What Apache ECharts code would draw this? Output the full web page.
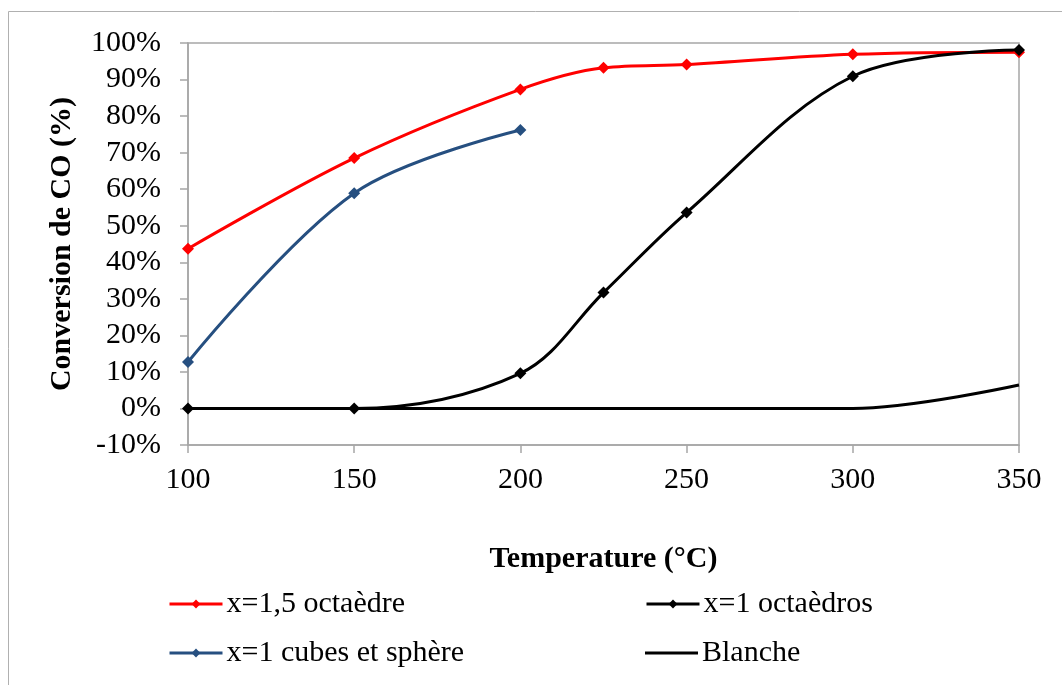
<!DOCTYPE html>
<html><head><meta charset="utf-8">
<script src="https://cdn.jsdelivr.net/npm/echarts@6/dist/echarts.min.js"></script>
<style>html,body{margin:0;padding:0;background:#fff}#c{width:1062px;height:685px}</style>
</head><body><div id="c"></div>
<script>
const temps = [100, 150, 200, 225, 250, 300, 350];
const octa15 = [43.7, 68.5, 87.3, 93.2, 94.1, 96.9, 97.5];
const octa1 = [0, 0, 9.6, 31.7, 53.6, 90.9, 98.1];
const cubesTemps = [100, 150, 200];
const cubes = [12.7, 58.9, 76.2];
const blancheTemps = [100, 150, 200, 250, 300, 350];
const blanche = [0, 0, 0, 0, 0, 6.4];
const names = ['x=1,5 octaèdre', 'x=1 octaèdros', 'x=1 cubes et sphère', 'Blanche'];
const xTicks = { min: 100, max: 350, interval: 50 };
const yTicks = { min: -10, max: 100, interval: 10 };

const pair = (xs, ys) => xs.map((x, i) => [x, ys[i]]);
const FONT = '"Liberation Serif", "Times New Roman", serif';
const AX = '#A6A6A6';
const chart = echarts.init(document.getElementById('c'));
const lg = (name, left, top, icon) => ({
  data: [icon ? { name, icon } : name], left, top, itemWidth: 53, itemHeight: icon ? 3 : 11, itemGap: 0, padding: 0,
  lineStyle: { width: 3 },
  textStyle: { fontFamily: FONT, fontSize: 30, color: '#000', padding: [0, 0, 0, -1] }
});
const mk = (name, data, color, sym) => ({
  name, type: 'line', data, smooth: 0.35, color,
  lineStyle: { width: 3, color },
  symbol: sym ? 'diamond' : 'none', symbolSize: 12,
  itemStyle: { color }, showSymbol: !!sym, z: 3
});
chart.setOption({
  animation: false,
  graphic: [{ type: 'rect', shape: { x: 8.5, y: 11.5, width: 1100, height: 700 },
    style: { fill: 'none', stroke: '#B0B0B0', lineWidth: 1 }, z: -1 }],
  grid: { left: 188, right: 43, top: 43, bottom: 240, show: true, borderColor: AX, borderWidth: 1.5 },
  legend: [lg(names[0], 168, 589), lg(names[1], 645, 589), lg(names[2], 168, 638), lg(names[3], 645, 638, 'rect')],
  xAxis: {
    type: 'value', min: xTicks.min, max: xTicks.max, interval: xTicks.interval,
    name: 'Temperature (°C)', nameLocation: 'middle', nameGap: 99,
    nameTextStyle: { fontFamily: FONT, fontSize: 30, fontWeight: 'bold', color: '#000' },
    axisLine: { onZero: false, lineStyle: { color: AX, width: 1.5 } },
    axisTick: { show: true, length: 8, lineStyle: { color: AX, width: 1.5 } },
    axisLabel: { fontFamily: FONT, fontSize: 30, color: '#000', margin: 20 },
    splitLine: { show: false }
  },
  yAxis: {
    type: 'value', min: yTicks.min, max: yTicks.max, interval: yTicks.interval,
    name: 'Conversion de CO (%)', nameLocation: 'middle', nameGap: 111,
    nameTextStyle: { fontFamily: FONT, fontSize: 30, fontWeight: 'bold', color: '#000' },
    axisLine: { show: true, lineStyle: { color: AX, width: 1.5 } },
    axisTick: { show: true, length: 8, lineStyle: { color: AX, width: 1.5 } },
    axisLabel: { fontFamily: FONT, fontSize: 30, color: '#000', margin: 27, formatter: '{value}%' },
    splitLine: { show: false }
  },
  series: [
    mk(names[0], pair(temps, octa15), '#FF0000', true),
    mk(names[1], pair(temps, octa1), '#000000', true),
    mk(names[2], pair(cubesTemps, cubes), '#264F80', true),
    mk(names[3], pair(blancheTemps, blanche), '#000000', false)
  ]
});
</script></body></html>
